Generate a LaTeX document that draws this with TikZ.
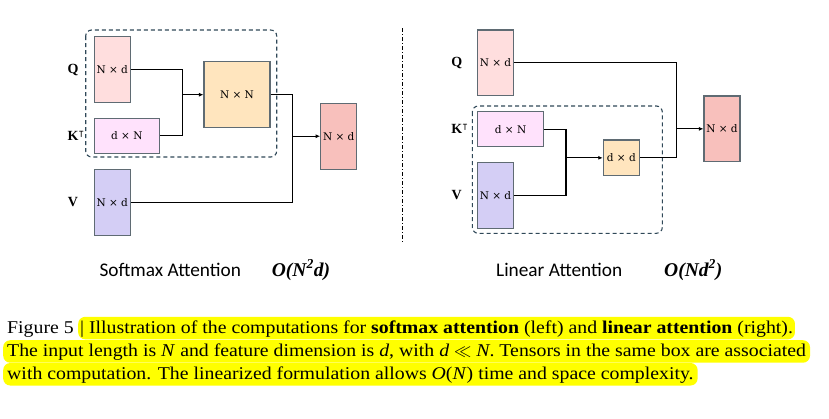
\documentclass[tikz,border=0pt]{standalone}
\usepackage{fontspec}
\usepackage{amssymb}
\usetikzlibrary{arrows.meta}
\setmainfont{Liberation Serif}
\newfontfamily\capfont{Liberation Serif}[FakeStretch=1.1]
\newfontfamily\boxfont{DejaVu Serif}
\newfontfamily\labfont{Carlito}
\definecolor{qfill}{RGB}{255,222,222}
\definecolor{kfill}{RGB}{255,226,252}
\definecolor{nfill}{RGB}{255,229,190}
\definecolor{vfill}{RGB}{212,206,245}
\definecolor{ofill}{RGB}{248,192,188}
\definecolor{bord}{RGB}{95,107,115}
\definecolor{dash}{RGB}{47,72,88}
\definecolor{hl}{RGB}{255,255,0}
\tikzset{
  tensor/.style={draw=bord, line width=1.1pt, inner sep=0pt, font=\boxfont\fontsize{10.5}{12}\selectfont},
  grp/.style={draw=dash, line width=1.1pt, dashed, dash pattern=on 4pt off 3pt, rounded corners=6pt},
  wire/.style={draw=black, line width=1.2pt},
  arr/.style={draw=black, line width=1.1pt, -{Latex[length=4.5pt,width=4pt]}},
  rowlab/.style={font=\fontsize{14}{16}\selectfont\bfseries, inner sep=0pt},
  title/.style={font=\labfont\fontsize{19.3}{22}\selectfont, anchor=base west, inner sep=0pt},
  cplx/.style={font=\fontsize{19.5}{22}\selectfont\bfseries\itshape, anchor=base west, inner sep=0pt},
  capline/.style={font=\capfont\fontsize{18}{20}\selectfont, anchor=base west, inner xsep=2pt, inner ysep=0pt, text height=16.5pt, text depth=6pt},
  hlt/.style={fill=hl, rounded corners=7pt}
}
\begin{document}
\begin{tikzpicture}[x=1pt,y=-1pt]
\useasboundingbox (0,0) rectangle (829,418);
% ---- left: softmax ----
\draw[grp] (85.7,30) rectangle (276.7,157);
\node[tensor, fill=qfill, minimum width=35.7pt, minimum height=65.6pt] (lq) at (112.2,69.5) {N × d};
\node[tensor, fill=kfill, minimum width=65pt, minimum height=35pt] (lk) at (126.8,135.8) {d × N};
\node[tensor, fill=nfill, minimum width=66pt, minimum height=66pt] (lnn) at (237,94.7) {N × N};
\node[tensor, fill=vfill, minimum width=35.7pt, minimum height=65.7pt] (lv) at (112.2,202.2) {N × d};
\node[tensor, fill=ofill, minimum width=36pt, minimum height=65.7pt] (lo) at (338.7,136.2) {N × d};
\coordinate (lj1) at (182.3,94.7);
\coordinate (lj2) at (292.3,136.2);
\draw[wire] (lq.east) -| (lj1) |- (lk.east);
\draw[arr] (lj1) -- (lnn.west);
\draw[wire] (lnn.east) -| (lj2) |- (lv.east);
\draw[arr] (lj2) -- (lo.west);
\node[rowlab] (lql) at (73,69.5) {Q};
\node[rowlab, anchor=west] (lkl) at (67.5,135.8) {K$^{\intercal}$};
\node[rowlab] (lvl) at (73,202.2) {V};
% ---- divider ----
\coordinate (dtop) at (402.3,28);
\coordinate (dbot) at (402.3,242.7);
\draw[black, line width=1pt, dash pattern=on 4pt off 2pt on 1pt off 2pt] (dtop) -- (dbot);
% ---- right: linear ----
\draw[grp] (472.3,106) rectangle (662.3,233.3);
\node[tensor, fill=qfill, minimum width=35.6pt, minimum height=65.7pt] (rq) at (495.5,62.85) {N × d};
\node[tensor, fill=kfill, minimum width=65.6pt, minimum height=35pt] (rk) at (510.5,129.2) {d × N};
\node[tensor, fill=vfill, minimum width=35.6pt, minimum height=65.6pt] (rv) at (495.5,195.5) {N × d};
\node[tensor, fill=nfill, minimum width=36pt, minimum height=35.7pt] (rdd) at (621.3,157.85) {d × d};
\node[tensor, fill=ofill, minimum width=36pt, minimum height=65.7pt] (ro) at (722,128.85) {N × d};
\coordinate (rj1) at (566,157.85);
\coordinate (rj2) at (676.7,128.85);
\draw[wire] (rk.east) -| (rj1) |- (rv.east);
\draw[arr] (rj1) -- (rdd.west);
\draw[wire] (rq.east) -| (rj2) |- (rdd.east);
\draw[arr] (rj2) -- (ro.west);
\node[rowlab] (rql) at (456.7,62.85) {Q};
\node[rowlab, anchor=west] (rkl) at (451.2,129.2) {K$^{\intercal}$};
\node[rowlab] (rvl) at (456.7,195.5) {V};
% ---- titles ----
\node[title] (t1) at (99.3,276.5) {Softmax Attention};
\node[cplx] (c1) at (271.7,276.5) {O(N\textsuperscript{2}d)};
\node[title] (t2) at (496,276.5) {Linear Attention};
\node[cplx] (c2) at (664,276.5) {O(Nd\textsuperscript{2})};
% ---- caption ----
\node[capline, inner xsep=0pt] (cap0) at (7,333.3) {Figure 5};
\node[capline, hlt] (cap1) at (78,333.3) {| Illustration of the computations for \textbf{softmax attention} (left) and \textbf{linear attention} (right).};
\node[capline, hlt, inner xsep=4pt] (cap2) at (3,356.7) {The input length is \textit{N} and feature dimension is \textit{d}, with \textit{d} $\ll$ \textit{N}. Tensors in the same box are associated};
\node[capline, hlt, inner xsep=4pt] (cap3) at (3,379.5) {with computation. The linearized formulation allows \textit{O}(\textit{N}) time and space complexity.};
\end{tikzpicture}
\end{document}
